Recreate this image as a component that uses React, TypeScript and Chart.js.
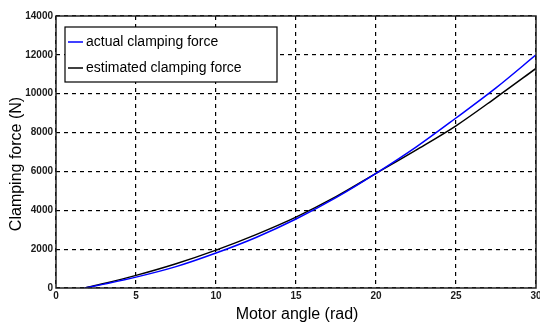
import React, { useEffect, useRef } from "react";
import { Chart, registerables } from "chart.js";

Chart.register(...registerables);

const angleActual = [1.8, 3, 5, 7.5, 10, 12.5, 15, 17.5, 20, 22.5, 25, 27.5, 30];
const forceActual = [0, 200, 560, 1100, 1800, 2600, 3550, 4650, 5900, 7250, 8750, 10300, 12000];
const angleEstimated = [1.8, 3, 5, 7.5, 10, 12.5, 15, 17.5, 20, 22.5, 25, 27.5, 30];
const forceEstimated = [0, 230, 650, 1250, 1950, 2750, 3650, 4700, 5900, 7100, 8350, 9800, 11300];
const seriesLabels = ["actual clamping force", "estimated clamping force"];
const seriesColors = ["#0000ff", "#000000"];
const xTitle = "Motor angle (rad)";
const yTitle = "Clamping force (N)";

const tickFont = { family: "'Liberation Sans Narrow', 'Liberation Sans', Arial, sans-serif", size: 10, weight: "bold" as const };

const overlayPlugin = {
  id: "overlay",
  afterDatasetsDraw(chart: any) {
    const { ctx, chartArea } = chart;
    const { left, top, right, bottom } = chartArea;
    ctx.save();
    // plot frame
    ctx.strokeStyle = "#222";
    ctx.lineWidth = 1.5;
    ctx.setLineDash([]);
    ctx.strokeRect(left, top, right - left, bottom - top);

    // legend box
    const lx = left + 9, ly = top + 11, lw = 212, lh = 55;
    ctx.fillStyle = "#fff";
    ctx.fillRect(lx, ly, lw, lh);
    ctx.strokeStyle = "#000";
    ctx.lineWidth = 1.2;
    ctx.strokeRect(lx, ly, lw, lh);
    ctx.font = "14px 'Liberation Sans Narrow', 'Liberation Sans', Arial, sans-serif";
    ctx.textBaseline = "middle";
    chart.data.datasets.forEach((ds: any, i: number) => {
      const y = ly + 15 + i * 26;
      ctx.strokeStyle = ds.borderColor;
      ctx.lineWidth = 1.5;
      ctx.beginPath();
      ctx.moveTo(lx + 3, y);
      ctx.lineTo(lx + 18, y);
      ctx.stroke();
      ctx.fillStyle = "#000";
      ctx.fillText(ds.label, lx + 21, y);
    });

    // axis titles
    ctx.fillStyle = "#000";
    ctx.font = "16px 'Liberation Sans', Arial, sans-serif";
    ctx.textAlign = "center";
    ctx.textBaseline = "middle";
    ctx.fillText(xTitle, (left + right) / 2 + 1, bottom + 27);
    ctx.translate(17, (top + bottom) / 2 + 12);
    ctx.rotate(-Math.PI / 2);
    ctx.fillText(yTitle, 0, 0);
    ctx.restore();
  },
};

export default function App() {
  const ref = useRef<HTMLCanvasElement>(null);
  useEffect(() => {
    document.body.style.margin = "0";
    const chart = new Chart(ref.current!, {
      type: "line",
      data: {
        datasets: [
          {
            label: seriesLabels[0],
            data: angleActual.map((x, i) => ({ x, y: forceActual[i] })),
            borderColor: seriesColors[0],
            borderWidth: 1.5,
            pointRadius: 0,
            cubicInterpolationMode: "monotone",
          },
          {
            label: seriesLabels[1],
            data: angleEstimated.map((x, i) => ({ x, y: forceEstimated[i] })),
            borderColor: seriesColors[1],
            borderWidth: 1.5,
            pointRadius: 0,
            cubicInterpolationMode: "monotone",
          },
        ],
      },
      options: {
        animation: false,
        responsive: true,
        maintainAspectRatio: false,
        layout: { padding: { top: 16, right: 4, left: 0, bottom: 0 } },
        plugins: { legend: { display: false }, tooltip: { enabled: false } },
        scales: {
          x: {
            type: "linear",
            min: 0,
            max: 30,
            afterFit: (s: any) => { s.height = 34; s.paddingRight = 0; s.paddingLeft = 0; },
            ticks: { stepSize: 5, font: tickFont, color: "#1a1a1a", padding: 2, maxRotation: 0, callback: (v: any) => String(v) },
            grid: { color: "#000", lineWidth: 1.2, drawTicks: false },
            border: { display: false, dash: [4, 4] },
          },
          y: {
            min: 0,
            max: 14000,
            afterFit: (s: any) => { s.width = 56; s.paddingTop = 0; s.paddingBottom = 0; },
            ticks: { stepSize: 2000, font: tickFont, color: "#1a1a1a", padding: 3, callback: (v: any) => String(v) },
            grid: { color: "#000", lineWidth: 1.2, drawTicks: false },
            border: { display: false, dash: [4, 4] },
          },
        },
      },
      plugins: [overlayPlugin],
    });
    return () => chart.destroy();
  }, []);
  return (
    <div style={{ width: 540, height: 322, position: "relative" }}>
      <canvas ref={ref} />
    </div>
  );
}
